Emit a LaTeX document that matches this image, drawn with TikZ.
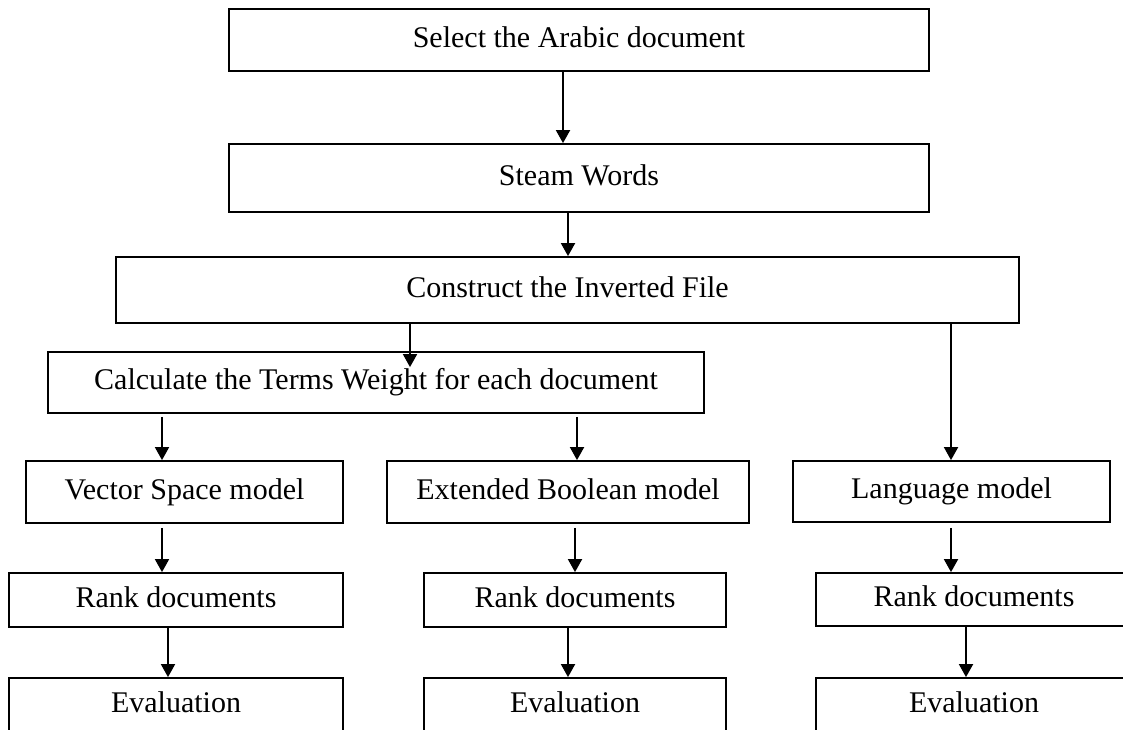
\documentclass[tikz,border=0pt]{standalone}
\usepackage{fontspec}
\setmainfont{Liberation Serif}
\usetikzlibrary{arrows.meta}
\begin{document}
\begin{tikzpicture}[x=1pt,y=1pt,
  box/.style={draw=black, line width=1.8pt, fill=white, inner sep=0pt,
    font=\fontsize{30}{36}\selectfont, text height=20pt, text depth=6pt,
    align=center},
  arr/.style={draw=black, line width=1.8pt,
    -{Triangle[width=14pt,length=13pt]}}]
\useasboundingbox (0,0) rectangle (1123,-729);
\clip (0,0) rectangle (1123,-729);

% main pipeline
\node[box, minimum width=700pt, minimum height=62pt] (b1) at (579,-40) {Select the Arabic document};
\node[box, minimum width=700pt, minimum height=68pt] (b2) at (579,-178) {Steam Words};
\node[box, minimum width=903pt, minimum height=66pt] (b3) at (567.5,-290) {Construct the Inverted File};
\node[box, minimum width=656pt, minimum height=61pt] (b4) at (376,-382.5) {Calculate the Terms Weight for each document};

% retrieval models
\node[box, minimum width=317pt, minimum height=62pt] (b5) at (184.5,-492) {Vector Space model};
\node[box, minimum width=362pt, minimum height=62pt] (b6) at (568,-492) {Extended Boolean model};
\node[box, minimum width=317pt, minimum height=61pt] (b7) at (951.5,-491.5) {Language model};

% ranking
\node[box, minimum width=334pt, minimum height=54pt] (r1) at (176,-600) {Rank documents};
\node[box, minimum width=302pt, minimum height=54pt] (r2) at (575,-600) {Rank documents};
\node[box, minimum width=316pt, minimum height=53pt] (r3) at (974,-599.5) {Rank documents};

% evaluation
\node[box, minimum width=334pt, minimum height=54pt] (e1) at (176,-705) {Evaluation};
\node[box, minimum width=302pt, minimum height=54pt] (e2) at (575,-705) {Evaluation};
\node[box, minimum width=316pt, minimum height=54pt] (e3) at (974,-705) {Evaluation};

% connectors
\draw[arr] ([xshift=-16pt]b1.south) -- ([xshift=-16pt]b2.north);
\draw[arr] ([xshift=-11pt]b2.south) -- ([xshift=0.5pt]b3.north);
\draw[arr] ([xshift=-157.5pt]b3.south) -- ([xshift=34pt,yshift=-16pt]b4.north);
\draw[arr] ([xshift=383.5pt]b3.south) -- ([xshift=-0.5pt]b7.north);

\draw[arr] ([xshift=-214pt,yshift=-3pt]b4.south) -- ([xshift=-22.5pt]b5.north);
\draw[arr] ([xshift=201pt,yshift=-3pt]b4.south) -- ([xshift=9pt]b6.north);

\draw[arr] ([xshift=-22.5pt,yshift=-4pt]b5.south) -- ([xshift=-14pt]r1.north);
\draw[arr] ([xshift=7pt,yshift=-4pt]b6.south) -- (r2.north);
\draw[arr] ([xshift=-0.5pt,yshift=-5pt]b7.south) -- ([xshift=-23pt]r3.north);

\draw[arr] ([xshift=-8pt]r1.south) -- ([xshift=-8pt]e1.north);
\draw[arr] ([xshift=-7pt]r2.south) -- ([xshift=-7pt]e2.north);
\draw[arr] ([xshift=-8pt]r3.south) -- ([xshift=-8pt]e3.north);
\end{tikzpicture}
\end{document}
